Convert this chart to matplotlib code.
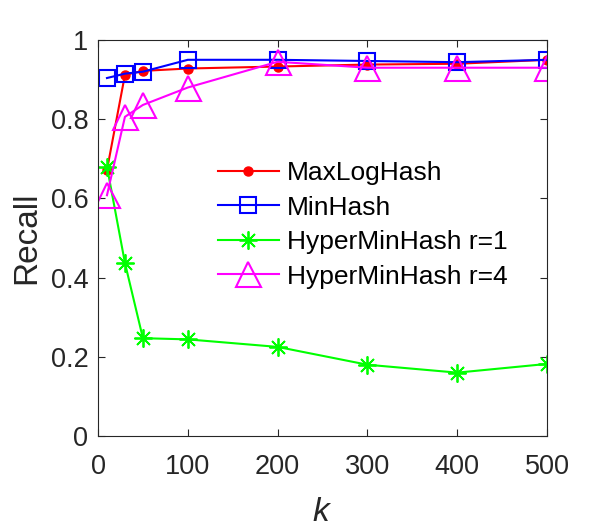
import numpy as np
import matplotlib.pyplot as plt

k = [10, 30, 50, 100, 200, 300, 400, 500]
maxloghash = [0.672, 0.912, 0.922, 0.928, 0.933, 0.938, 0.940, 0.950]
minhash = [0.904, 0.915, 0.920, 0.950, 0.950, 0.947, 0.944, 0.950]
hyper_r1 = [0.680, 0.437, 0.247, 0.244, 0.225, 0.180, 0.160, 0.182]
hyper_r4 = [0.608, 0.806, 0.836, 0.880, 0.945, 0.930, 0.930, 0.930]

plt.rcParams['font.family'] = ['Liberation Sans', 'DejaVu Sans']
plt.rcParams['mathtext.fontset'] = 'custom'
plt.rcParams['mathtext.it'] = 'Liberation Sans:italic'

dark = '#262626'

fig = plt.figure(figsize=(6.05, 5.28), dpi=100)
ax = fig.add_axes([98 / 605, 1 - 436 / 528, 449 / 605, 396 / 528])

ax.plot(k, maxloghash, '-', color='red', lw=1.5, marker='o', ms=6.5,
        mfc='red', mec='red', label='MaxLogHash')
ax.plot(k, minhash, '-', color='blue', lw=1.5, marker='s', ms=12,
        mfc='none', mec='blue', mew=1.5, label='MinHash')
ax.plot(k, hyper_r1, '-', color='#00ff00', lw=1.5, marker=(8, 2, 0), ms=13,
        mfc='none', mec='#00ff00', mew=1.3, label='HyperMinHash r=1')
ax.plot(k, hyper_r4, '-', color='magenta', lw=1.5, marker='^', ms=18,
        mfc='none', mec='magenta', mew=1.5, label='HyperMinHash r=4')

ax.set_xlim(0, 500)
ax.set_ylim(0, 1)
ax.set_xticks([0, 100, 200, 300, 400, 500])
ax.set_yticks([0, 0.2, 0.4, 0.6, 0.8, 1])
ax.set_yticklabels(['0', '0.2', '0.4', '0.6', '0.8', '1'])
ax.tick_params(direction='in', top=True, right=True, labelsize=19.5,
               color=dark, labelcolor=dark, length=5, pad=7)
ax.tick_params(axis='x', pad=13)
for s in ax.spines.values():
    s.set_color(dark)
    s.set_linewidth(0.8)

ax.set_xlabel('$k$', fontsize=24, color=dark, labelpad=12)
ax.set_ylabel('Recall', fontsize=24, color=dark, labelpad=6)

ax.legend(loc='upper left', bbox_to_anchor=(218 / 605, 1 - 161 / 528),
          bbox_transform=fig.transFigure, frameon=False, fontsize=19,
          handlelength=2.3, handletextpad=0.3, labelspacing=0.4,
          borderpad=0, borderaxespad=0)

fig.savefig('out.png', dpi=100)
